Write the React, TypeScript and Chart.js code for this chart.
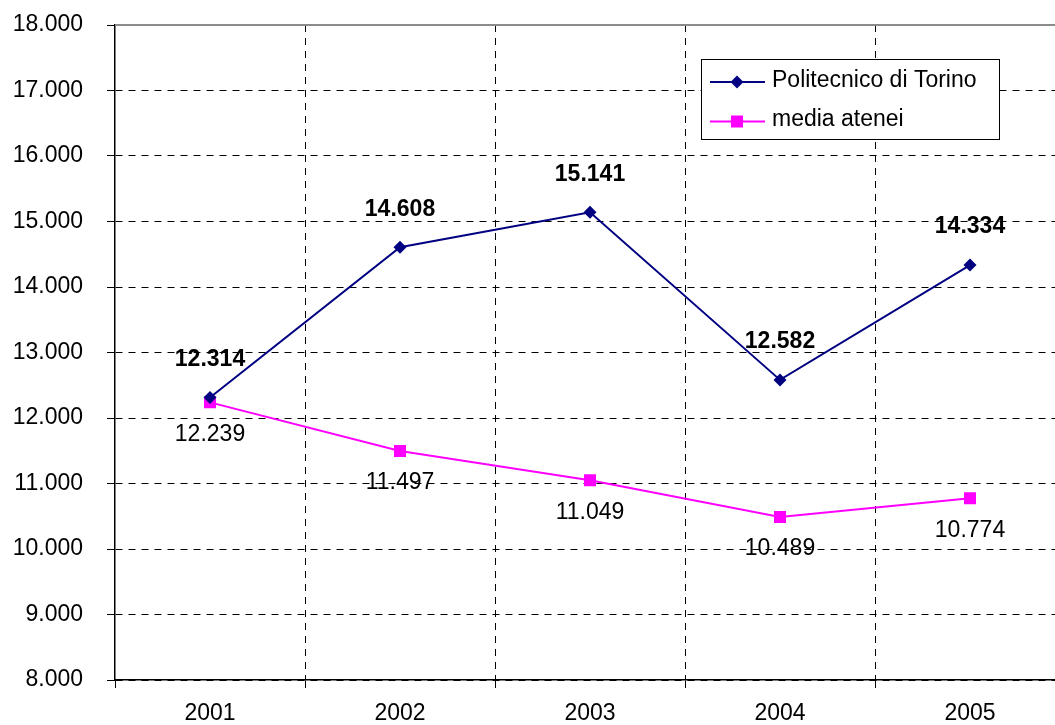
import React, { useEffect, useRef } from "react";
import { Chart, registerables } from "chart.js";

Chart.register(...registerables);

const years = ["2001", "2002", "2003", "2004", "2005"];
const politecnico = [12314, 14608, 15141, 12582, 14334];
const mediaAtenei = [12239, 11497, 11049, 10489, 10774];
const seriesNames = ["Politecnico di Torino", "media atenei"];
const seriesColors = ["#000080", "#FF00FF"];
const yMin = 8000;
const yMax = 18000;
const yStep = 1000;

const FONT = "'Liberation Sans', Arial, sans-serif";
const FS = 23;

const fmt = (v: number) =>
  Math.round(v)
    .toString()
    .replace(/\B(?=(\d{3})+(?!\d))/g, ".");

const topBorderPlugin = {
  id: "topBorder",
  beforeDatasetsDraw(chart: any) {
    const { ctx, chartArea } = chart;
    ctx.save();
    ctx.strokeStyle = "#8c8c8c";
    ctx.lineWidth = 2;
    ctx.beginPath();
    ctx.moveTo(chartArea.left, chartArea.top);
    ctx.lineTo(chartArea.right, chartArea.top);
    ctx.stroke();
    ctx.restore();
  },
};

const dataLabelPlugin = {
  id: "dataLabels",
  afterDatasetsDraw(chart: any) {
    const { ctx } = chart;
    ctx.save();
    ctx.fillStyle = "#000";
    ctx.textAlign = "center";
    ctx.textBaseline = "middle";
    chart.data.datasets.forEach((ds: any, i: number) => {
      const meta = chart.getDatasetMeta(i);
      meta.data.forEach((pt: any, j: number) => {
        const v = ds.data[j];
        if (i === 0) {
          ctx.font = `bold ${FS}px ${FONT}`;
          ctx.fillText(fmt(v), pt.x, pt.y - 38);
        } else {
          ctx.font = `${FS}px ${FONT}`;
          ctx.fillText(fmt(v), pt.x, pt.y + 32);
        }
      });
    });
    ctx.restore();
  },
};

const legendPlugin = {
  id: "customLegend",
  afterDraw(chart: any) {
    const { ctx } = chart;
    const bx = 701, by = 59, bw = 298, bh = 80;
    ctx.save();
    ctx.fillStyle = "#fff";
    ctx.fillRect(bx, by, bw, bh);
    ctx.strokeStyle = "#000";
    ctx.lineWidth = 1;
    ctx.strokeRect(bx + 0.5, by + 0.5, bw, bh);
    const rows = [82, 121.5];
    chart.data.datasets.forEach((ds: any, i: number) => {
      const y = rows[i];
      ctx.strokeStyle = ds.borderColor;
      ctx.lineWidth = 2;
      ctx.beginPath();
      ctx.moveTo(710, y);
      ctx.lineTo(765, y);
      ctx.stroke();
      ctx.fillStyle = ds.pointBackgroundColor;
      ctx.beginPath();
      if (i === 0) {
        ctx.moveTo(737, y - 6.5);
        ctx.lineTo(743.5, y);
        ctx.lineTo(737, y + 6.5);
        ctx.lineTo(730.5, y);
        ctx.closePath();
      } else {
        ctx.rect(731, y - 6, 12, 12);
      }
      ctx.fill();
      ctx.fillStyle = "#000";
      ctx.font = `${FS}px ${FONT}`;
      ctx.textAlign = "left";
      ctx.textBaseline = "alphabetic";
      ctx.fillText(ds.label, 772, y + 4.5);
    });
    ctx.restore();
  },
};

export default function App() {
  const ref = useRef<HTMLCanvasElement | null>(null);

  useEffect(() => {
    if (!ref.current) return;
    const chart = new Chart(ref.current, {
      type: "line",
      data: {
        labels: years,
        datasets: [
          {
            label: seriesNames[0],
            data: politecnico,
            borderColor: seriesColors[0],
            backgroundColor: seriesColors[0],
            pointBackgroundColor: seriesColors[0],
            pointBorderColor: seriesColors[0],
            borderWidth: 2,
            pointStyle: "rectRot",
            pointRadius: 6.5,
            pointBorderWidth: 0,
            tension: 0,
          },
          {
            label: seriesNames[1],
            data: mediaAtenei,
            borderColor: seriesColors[1],
            backgroundColor: seriesColors[1],
            pointBackgroundColor: seriesColors[1],
            pointBorderColor: seriesColors[1],
            borderWidth: 2,
            pointStyle: "rect",
            pointRadius: 8.5,
            pointBorderWidth: 0,
            tension: 0,
          },
        ],
      },
      options: {
        responsive: false,
        animation: false,
        devicePixelRatio: 1,
        layout: {
          autoPadding: false,
          padding: { left: 0, right: 15, top: 25, bottom: 0 },
        },
        plugins: {
          legend: { display: false },
          tooltip: { enabled: false },
        },
        scales: {
          x: {
            type: "category",
            offset: true,
            grid: {
              offset: true,
              color: (c: any) => (c.index === 0 ? "rgba(0,0,0,0)" : "#000"),
              lineWidth: 1,
              tickLength: 8,
              tickColor: "#000",
              tickBorderDash: [],
            },
            border: { display: true, color: "#000", width: 1.5, dash: [7, 6] },
            ticks: {
              color: "#000",
              font: { family: FONT, size: FS },
              padding: 12,
              maxRotation: 0,
            },
            afterFit(scale: any) {
              scale.height = 45;
              scale.paddingLeft = 0;
              scale.paddingRight = 0;
            },
          },
          y: {
            min: yMin,
            max: yMax,
            grid: {
              color: (c: any) =>
                c.tick && c.tick.value === yMax ? "rgba(0,0,0,0)" : "#000",
              lineWidth: 1,
              tickLength: 8,
              tickColor: "#000",
              tickBorderDash: [],
            },
            border: { display: true, color: "#000", width: 1.5, dash: [7, 6] },
            ticks: {
              stepSize: yStep,
              color: "#000",
              font: { family: FONT, size: FS },
              padding: 24,
              callback: (v: any) => fmt(Number(v)),
            },
            afterFit(scale: any) {
              scale.width = 115;
              scale.paddingTop = 0;
              scale.paddingBottom = 0;
            },
          },
        },
      },
      plugins: [topBorderPlugin, dataLabelPlugin, legendPlugin],
    } as any);
    return () => chart.destroy();
  }, []);

  return (
    <div
      style={{
        position: "fixed",
        left: 0,
        top: 0,
        width: 1055,
        height: 725,
        overflow: "hidden",
        background: "#fff",
      }}
    >
      <canvas ref={ref} width={1080} height={725} style={{ display: "block" }} />
    </div>
  );
}
